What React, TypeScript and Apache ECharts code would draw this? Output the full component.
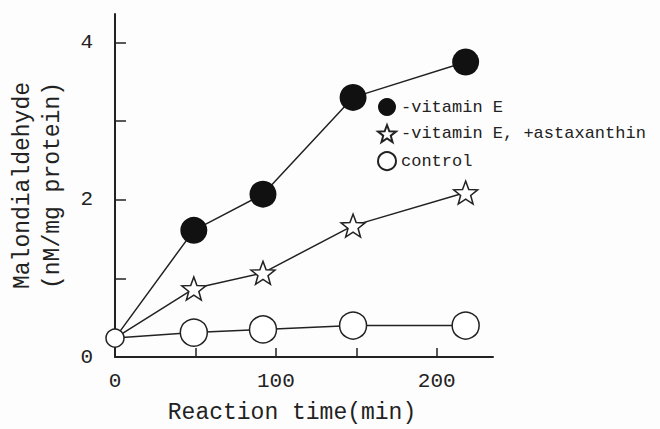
import React, { useEffect, useRef } from "react";
import * as echarts from "echarts";

const times = [0, 49, 92, 148, 218];
const vitaminE = [0.24, 1.61, 2.07, 3.3, 3.75];
const astaxanthin = [0.24, 0.87, 1.07, 1.67, 2.09];
const control = [0.24, 0.31, 0.35, 0.4, 0.4];
const seriesNames = ["-vitamin E", "-vitamin E, +astaxanthin", "control"];
const xLabelValues = [0, 100, 200];
const xTickValues = [50, 100, 150, 200];
const yLabelValues = [0, 2, 4];
const yTickValues = [1, 2, 3, 4];

const STAR =
  "path://M50 0 L62.34 33.01 L97.55 34.55 L69.97 56.49 L79.39 90.45 L50 71 L20.61 90.45 L30.03 56.49 L2.45 34.55 L37.66 33.01 Z";

const INK = "#222";
const FONT = "'Liberation Mono', 'DejaVu Sans Mono', monospace";

export default function App() {
  const ref = useRef<HTMLDivElement>(null);
  useEffect(() => {
    if (!ref.current) return;
    const chart = echarts.init(ref.current, undefined, { renderer: "svg" });
    const mk = (vals: number[], hideFirst: boolean, firstSize?: number) =>
      vals.map((v, i) => {
        const item: any = { value: [times[i], v] };
        if (i === 0 && hideFirst) item.symbol = "none";
        if (i === 0 && firstSize) item.symbolSize = firstSize;
        return item;
      });
    chart.setOption({
      animation: false,
      backgroundColor: "#fdfdfd",
      textStyle: { fontFamily: FONT, color: INK },
      grid: { left: 114, top: 14, width: 379, height: 347, containLabel: false },
      legend: {
        orient: "vertical",
        left: 377,
        top: 98,
        padding: 0,
        itemWidth: 18,
        itemHeight: 18,
        itemGap: 8,
        textStyle: { fontFamily: FONT, fontSize: 17, color: INK },
        data: [
          { name: seriesNames[0], icon: "circle" },
          { name: seriesNames[1], icon: STAR },
          { name: seriesNames[2], icon: "circle" },
        ],
      },
      xAxis: {
        type: "value",
        min: 0,
        max: 235,
        name: "Reaction time(min)",
        nameLocation: "middle",
        nameGap: 44,
        nameTextStyle: { fontFamily: FONT, fontSize: 23, color: INK, padding: [0, 24, 0, 0] },
        axisLine: { show: true, onZero: false, lineStyle: { color: INK, width: 2 } },
        axisTick: { show: true, inside: true, length: 9, lineStyle: { color: INK, width: 1.5 }, customValues: xTickValues },
        axisLabel: { customValues: xLabelValues, margin: 14, fontSize: 21, fontFamily: FONT, color: INK },
        splitLine: { show: false },
      },
      yAxis: {
        type: "value",
        min: 0,
        max: 4.36,
        name: "Malondialdehyde\n(nM/mg protein)",
        nameLocation: "middle",
        nameRotate: 90,
        nameGap: 47,
        nameTextStyle: { fontFamily: FONT, fontSize: 23, color: INK, lineHeight: 30 },
        axisLine: { show: true, onZero: false, lineStyle: { color: INK, width: 2 } },
        axisTick: { show: true, inside: true, length: 11, lineStyle: { color: INK, width: 1.5 }, customValues: yTickValues },
        axisLabel: { customValues: yLabelValues, margin: 22, fontSize: 21, fontFamily: FONT, color: INK },
        splitLine: { show: false },
      },
      series: [
        {
          name: seriesNames[0],
          type: "line",
          data: mk(vitaminE, true),
          symbol: "circle",
          symbolSize: 27,
          lineStyle: { color: INK, width: 1.5 },
          itemStyle: { color: "#111", borderColor: "#111", borderWidth: 0 },
          z: 2,
        },
        {
          name: seriesNames[1],
          type: "line",
          data: mk(astaxanthin, true),
          symbol: STAR,
          symbolSize: [24, 23],
          lineStyle: { color: INK, width: 1.5 },
          itemStyle: { color: "#fff", borderColor: INK, borderWidth: 1.5 },
          z: 3,
        },
        {
          name: seriesNames[2],
          type: "line",
          data: mk(control, false, 18),
          symbol: "circle",
          symbolSize: 27,
          lineStyle: { color: INK, width: 1.5 },
          itemStyle: { color: "#fff", borderColor: INK, borderWidth: 1.5 },
          z: 4,
        },
      ],
    });
    return () => chart.dispose();
  }, []);
  return <div ref={ref} style={{ width: 660, height: 429, position: "absolute", left: 0, top: 0 }} />;
}
